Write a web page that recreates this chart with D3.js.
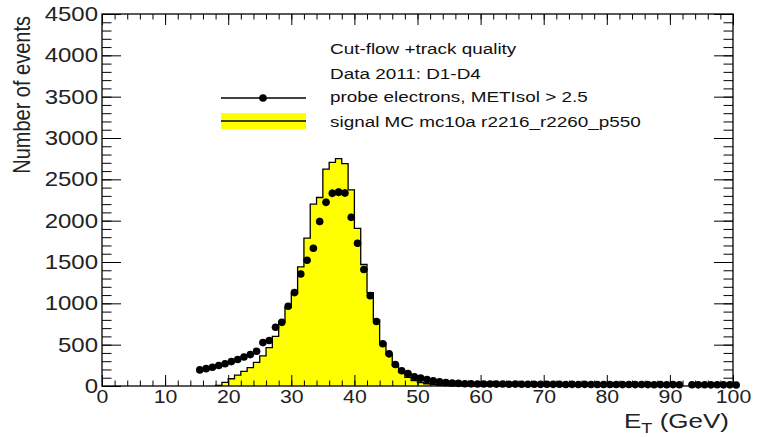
<!DOCTYPE html>
<html>
<head>
<meta charset="utf-8">
<script src="https://cdn.jsdelivr.net/npm/d3@7/dist/d3.min.js"></script>
<style>
body { margin: 0; background: #fff; }
svg { display: block; font-family: "Liberation Sans", Arial, sans-serif; }
</style>
</head>
<body>
<svg id="chart" width="757" height="437"></svg>
<script>
// signal MC histogram, 1 GeV bins, first bin starts at mcStart
var mcStart = 18;
var mcCounts = [8, 45, 88, 132, 177, 223, 285, 365, 465, 600,
    780, 950, 1120, 1440, 1790, 2200, 2280, 2624, 2704, 2750,
    2690, 2372, 1906, 1470, 1130, 800, 520, 380, 250, 165,
    105, 65, 42, 27, 16, 9, 5, 3, 2, 1, 1, 1];

// probe electrons (data), one point per 1 GeV bin from dataStart, null = empty bin
var dataStart = 15;
var dataCounts = [195, 210, 227, 248, 270, 295, 320, 350, 380, 420,
    525, 550, 710, 770, 965, 1130, 1355, 1521, 1667, 1990,
    2222, 2332, 2345, 2335, 2040, 1727, 1410, 1093, 780, 511,
    389, 260, 185, 150, 112, 95, 77, 62, 50, 42,
    36, 32, 28, 26, 25, 24, 25, 23, 24, 22,
    23, 22, 21, 22, 20, 21, 20, 21, 19, 20,
    19, 20, 18, 19, 18, 19, 18, 17, 18, 17,
    18, 17, 16, 17, 16, 17, 16, null, 15, 14,
    15, 14, 15, 14, 14, 13];

var xTicks = [0, 10, 20, 30, 40, 50, 60, 70, 80, 90, 100];
var xMinor = d3.range(0, 101, 2);
var yTicks = [0, 500, 1000, 1500, 2000, 2500, 3000, 3500, 4000, 4500];
var yMinor = d3.range(0, 4501, 100);

var legendTitle = ["Cut-flow +track quality", "Data 2011: D1-D4"];
var legendData = "probe electrons, METIsol > 2.5";
var legendMC = "signal MC mc10a r2216_r2260_p550";

// the picture is stretched sideways, so text gets the same stretch
var sx = 1.2;

var svg = d3.select("#chart");
var padL = 102, padR = 733, padT = 14, padB = 386;

var x = d3.scaleLinear().domain([0, 100]).range([padL, padR]);
var y = d3.scaleLinear().domain([0, 4500]).range([padB, padT]);

// MC histogram
var bins = mcCounts.map(function(v, i) { return {e: mcStart + i, v: v}; });
bins.push({e: mcStart + mcCounts.length, v: 0});

var area = d3.area()
    .curve(d3.curveStepAfter)
    .x(function(d) { return x(d.e); })
    .y0(y(0))
    .y1(function(d) { return y(d.v); });

svg.append("path")
    .datum(bins)
    .attr("d", area)
    .attr("fill", "#ffff00");

var outline = [{e: mcStart, v: 0}].concat(bins);
svg.append("path")
    .datum(outline)
    .attr("d", d3.line().curve(d3.curveStepAfter)
        .x(function(d) { return x(d.e); })
        .y(function(d) { return y(d.v); }))
    .attr("fill", "none")
    .attr("stroke", "#000")
    .attr("stroke-width", 1.3);

// data points with error bars
var pts = [];
dataCounts.forEach(function(v, i) {
    if (v !== null) pts.push({c: dataStart + i + 0.5, v: v});
});

var gPts = svg.append("g");
gPts.selectAll("line.h")
    .data(pts)
    .enter().append("line")
    .attr("x1", function(d) { return x(d.c - 0.5); })
    .attr("x2", function(d) { return x(d.c + 0.5); })
    .attr("y1", function(d) { return y(d.v); })
    .attr("y2", function(d) { return y(d.v); })
    .attr("stroke", "#000")
    .attr("stroke-width", 2.2);
gPts.selectAll("line.v")
    .data(pts)
    .enter().append("line")
    .attr("x1", function(d) { return x(d.c); })
    .attr("x2", function(d) { return x(d.c); })
    .attr("y1", function(d) { return y(d.v + Math.sqrt(d.v)); })
    .attr("y2", function(d) { return y(d.v - Math.sqrt(d.v)); })
    .attr("stroke", "#000")
    .attr("stroke-width", 1.2);
gPts.selectAll("circle")
    .data(pts)
    .enter().append("circle")
    .attr("cx", function(d) { return x(d.c); })
    .attr("cy", function(d) { return y(d.v); })
    .attr("r", 3.8)
    .attr("fill", "#000");

// axes: ticks point inwards on all four sides
function stretchLabels(k) {
    return function(g) {
        g.selectAll("text").each(function() {
            var t = d3.select(this);
            var tx = +t.attr("x") || 0;
            t.attr("x", tx / k).attr("transform", "scale(" + k + ",1)");
        });
    };
}

function styleAxis(g) {
    g.select(".domain").remove();
    g.selectAll("line").attr("stroke", "#000").attr("stroke-width", 1);
    g.selectAll("text")
        .attr("fill", "#222")
        .style("font-size", "20px")
        .style("font-family", "'Liberation Sans', Arial, sans-serif");
}

svg.append("g")
    .attr("transform", "translate(0," + padB + ")")
    .call(d3.axisBottom(x).tickValues(xMinor).tickSize(-5.5).tickFormat(""))
    .call(styleAxis);
svg.append("g")
    .attr("transform", "translate(0," + padB + ")")
    .call(d3.axisBottom(x).tickValues(xTicks).tickSizeInner(-11).tickSizeOuter(0)
        .tickPadding(4).tickFormat(d3.format("d")))
    .call(styleAxis)
    .call(function(g) { g.selectAll("text").style("font-size", "19px"); })
    .call(stretchLabels(1.12));
svg.append("g")
    .attr("transform", "translate(0," + padT + ")")
    .call(d3.axisTop(x).tickValues(xMinor).tickSize(-5.5).tickFormat(""))
    .call(styleAxis);
svg.append("g")
    .attr("transform", "translate(0," + padT + ")")
    .call(d3.axisTop(x).tickValues(xTicks).tickSize(-11).tickFormat(""))
    .call(styleAxis);

svg.append("g")
    .attr("transform", "translate(" + padL + ",0)")
    .call(d3.axisLeft(y).tickValues(yMinor).tickSize(-9.5).tickFormat(""))
    .call(styleAxis);
svg.append("g")
    .attr("transform", "translate(" + padL + ",0)")
    .call(d3.axisLeft(y).tickValues(yTicks).tickSizeInner(-19).tickSizeOuter(0)
        .tickPadding(4).tickFormat(d3.format("d")))
    .call(styleAxis)
    .call(stretchLabels(sx));
svg.append("g")
    .attr("transform", "translate(" + padR + ",0)")
    .call(d3.axisRight(y).tickValues(yMinor).tickSize(-9.5).tickFormat(""))
    .call(styleAxis);
svg.append("g")
    .attr("transform", "translate(" + padR + ",0)")
    .call(d3.axisRight(y).tickValues(yTicks).tickSize(-19).tickFormat(""))
    .call(styleAxis);

// frame
svg.append("rect")
    .attr("x", padL).attr("y", padT)
    .attr("width", padR - padL).attr("height", padB - padT)
    .attr("fill", "none")
    .attr("stroke", "#000")
    .attr("stroke-width", 1.3);

// axis titles
var xt = svg.append("g")
    .attr("transform", "translate(" + (padR - 4) + ",428) scale(1.3,1)")
    .append("text")
    .attr("text-anchor", "end")
    .attr("fill", "#222")
    .style("font-size", "20px");
xt.append("tspan").text("E");
xt.append("tspan").attr("dy", 5).style("font-size", "14px").text("T");
xt.append("tspan").attr("dy", -5).text(" (GeV)");

svg.append("g")
    .attr("transform", "translate(30,16) scale(" + sx + ",1) rotate(-90)")
    .append("text")
    .attr("text-anchor", "end")
    .attr("fill", "#222")
    .style("font-size", "20px")
    .text("Number of events");

// legend
var lg = svg.append("g");
var lx = 330, lsx = 1.26;
legendTitle.forEach(function(s, i) {
    lg.append("g")
        .attr("transform", "translate(" + lx + "," + (54 + i * 25) + ") scale(" + lsx + ",1)")
        .append("text")
        .attr("fill", "#111")
        .style("font-size", "15px")
        .text(s);
});
lg.append("line")
    .attr("x1", 221).attr("x2", 306).attr("y1", 98).attr("y2", 98)
    .attr("stroke", "#000").attr("stroke-width", 1.3);
lg.append("circle")
    .attr("cx", 263).attr("cy", 98).attr("r", 3.8).attr("fill", "#000");
lg.append("g")
    .attr("transform", "translate(" + lx + ",102) scale(" + lsx + ",1)")
    .append("text")
    .attr("fill", "#111")
    .style("font-size", "15px")
    .text(legendData);
lg.append("rect")
    .attr("x", 221).attr("y", 113).attr("width", 85).attr("height", 16)
    .attr("fill", "#ffff00");
lg.append("line")
    .attr("x1", 221).attr("x2", 306).attr("y1", 121).attr("y2", 121)
    .attr("stroke", "#000").attr("stroke-width", 1.3);
lg.append("g")
    .attr("transform", "translate(" + lx + ",127) scale(" + lsx + ",1)")
    .append("text")
    .attr("fill", "#111")
    .style("font-size", "15px")
    .text(legendMC);
</script>
</body>
</html>
